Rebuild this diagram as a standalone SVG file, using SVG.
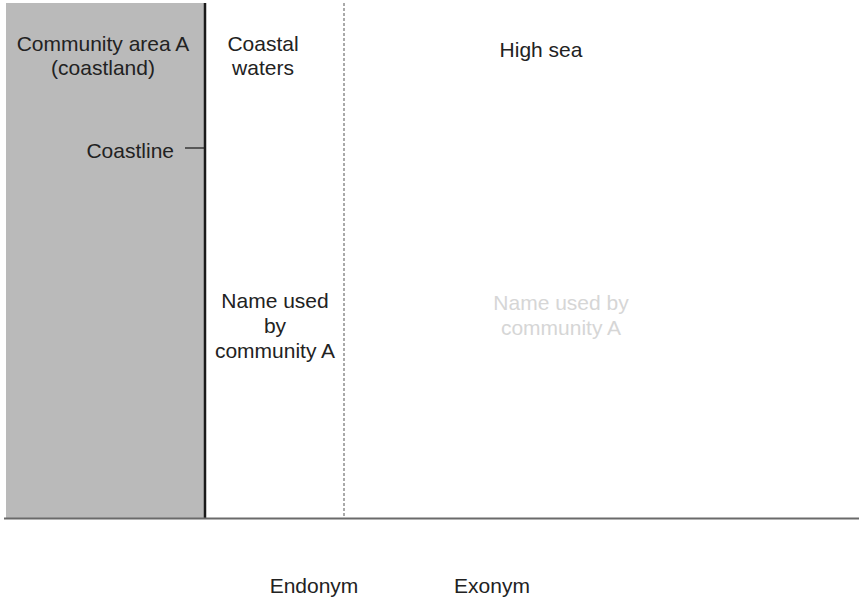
<svg xmlns="http://www.w3.org/2000/svg" width="859" height="599" viewBox="0 0 859 599">
<style>
text{font-family:"Liberation Sans",Arial,sans-serif;font-size:21px;fill:#222;text-anchor:middle}
.faint{fill:#d6d6d6}
</style>
<rect x="0" y="0" width="859" height="599" fill="#fff"/>
<g id="land">
<rect x="6" y="3" width="198" height="515" fill="#bababa"/>
<text x="103" y="51">Community area A</text>
<text x="103" y="75">(coastland)</text>
</g>
<g id="coastline">
<text x="174" y="158" style="text-anchor:end">Coastline</text>
</g>
<g id="coastal-waters">
<text x="263" y="51">Coastal</text>
<text x="263" y="75">waters</text>
<text x="275" y="308">Name used</text>
<text x="275" y="333">by</text>
<text x="275" y="358">community A</text>
</g>
<g id="high-sea">
<text x="541" y="57">High sea</text>
<text x="561" y="310" class="faint">Name used by</text>
<text x="561" y="335" class="faint">community A</text>
</g>
<g id="labels">
<text x="314" y="593">Endonym</text>
<text x="492" y="593">Exonym</text>
</g>
<g id="connectors">
<line x1="205" y1="3" x2="205" y2="519" stroke="#1a1a1a" stroke-width="2.5"/>
<line x1="185" y1="148" x2="204" y2="148" stroke="#222" stroke-width="1.3"/>
<line x1="344" y1="3" x2="344" y2="518" stroke="#555" stroke-width="1" stroke-dasharray="3,2"/>
<line x1="4" y1="518.5" x2="859" y2="518.5" stroke="#6a6a6a" stroke-width="2"/>
</g>
</svg>
